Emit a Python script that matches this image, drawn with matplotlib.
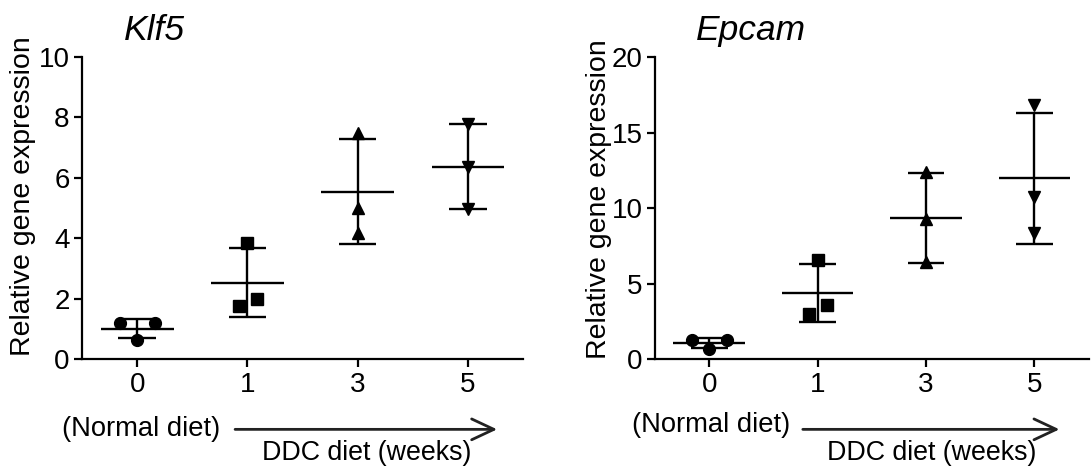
import matplotlib
matplotlib.use("Agg")
import matplotlib.pyplot as plt
import numpy as np

plt.rcParams['font.family'] = ['Liberation Sans', 'DejaVu Sans']

weeks = ["0", "1", "3", "5"]
markers = ["o", "s", "^", "v"]
# horizontal jitter of the three replicates in each group
jitter = [[-0.16, 0.0, 0.16], [-0.08, 0.0, 0.09], [0.0, 0.0, 0.0], [0.0, 0.0, 0.0]]

klf5 = [[1.2, 0.63, 1.2], [1.76, 3.83, 1.99], [7.48, 4.99, 4.16], [7.78, 6.37, 4.96]]
epcam = [[1.25, 0.66, 1.25], [2.99, 6.56, 3.59], [12.4, 9.25, 6.45], [16.8, 10.75, 8.33]]


def panel(ax, vals, title, ymax, yticks, lab_x, lab_y, normal_x, normal_y,
          arrow_x, ddc_x):
    for i, grp in enumerate(vals):
        grp = np.array(grp)
        m = grp.mean()
        sd = grp.std(ddof=1)
        ax.plot(i + np.array(jitter[i]), grp, linestyle="none", marker=markers[i],
                color="black", markersize=8.5, zorder=3, clip_on=False)
        ax.hlines(m, i - 0.33, i + 0.33, color="black", lw=1.7, zorder=2)
        ax.vlines(i, m - sd, m + sd, color="black", lw=1.7, zorder=2)
        ax.hlines([m - sd, m + sd], i - 0.17, i + 0.17, color="black", lw=1.7, zorder=2)

    ax.set_xlim(-0.5, 3.5)
    ax.set_ylim(0, ymax)
    ax.set_yticks(yticks)
    ax.set_xticks(range(4))
    ax.set_xticklabels(weeks)
    ax.spines["top"].set_visible(False)
    ax.spines["right"].set_visible(False)
    for s in ["left", "bottom"]:
        ax.spines[s].set_linewidth(1.6)
    ax.tick_params(width=1.6, length=6, labelsize=20)
    ax.tick_params(axis="x", pad=3.5)
    ax.tick_params(axis="y", pad=3)
    ax.set_ylabel("Relative gene expression", fontsize=20.5)
    ax.yaxis.set_label_coords(lab_x, lab_y)
    ax.text(0.095, 1.056, title, transform=ax.transAxes, fontsize=25.5,
            style="italic", ha="left", va="baseline")

    ax.text(normal_x, normal_y, "(Normal diet)", transform=ax.transAxes,
            fontsize=19.7, ha="center", va="center")
    ax.annotate("", xy=(arrow_x[1], -0.233), xytext=(arrow_x[0], -0.233),
                xycoords=ax.transAxes, textcoords=ax.transAxes,
                arrowprops=dict(arrowstyle="->,head_length=1.6,head_width=0.75",
                                lw=2, color="#222222", shrinkA=0, shrinkB=0))
    ax.text(ddc_x, -0.312, "DDC diet (weeks)", transform=ax.transAxes,
            fontsize=19.3, ha="center", va="center")


fig = plt.figure(figsize=(10.92, 4.74), dpi=100)
ax1 = fig.add_axes([0.0751, 0.2426, 0.404, 0.637])
ax2 = fig.add_axes([0.5998, 0.2426, 0.397, 0.637])

panel(ax1, klf5, "Klf5", 10, [0, 2, 4, 6, 8, 10], -0.104, 0.538,
      0.134, -0.232, (0.347, 0.941), 0.646)
panel(ax2, epcam, "Epcam", 20, [0, 5, 10, 15, 20], -0.099, 0.528,
      0.129, -0.217, (0.341, 0.933), 0.638)

fig.savefig("out.png", dpi=100)
